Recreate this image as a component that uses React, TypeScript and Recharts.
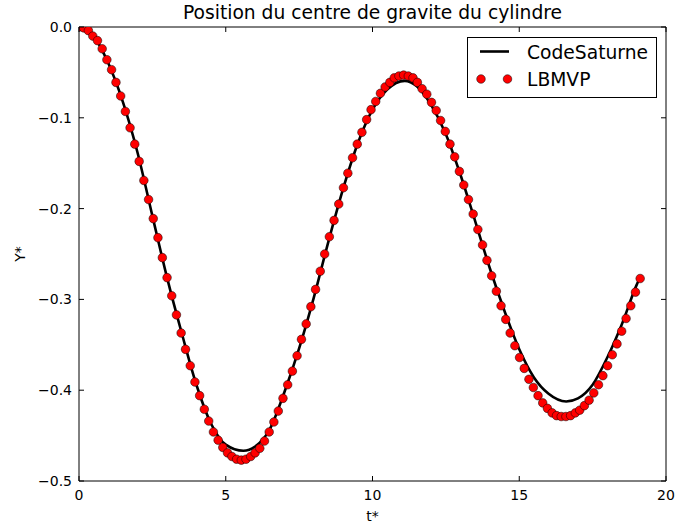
import { ComposedChart, Legend, Line, ReferenceArea, Scatter, XAxis, YAxis } from 'recharts';

// LBMVP samples (red markers)
const LBMVP_T = [
  0, 0.16, 0.32, 0.47, 0.63, 0.79, 0.95, 1.11, 1.26, 1.42, 1.58, 1.74, 1.9, 2.05, 2.21, 2.37, 2.53, 2.69, 2.84, 3.0,
  3.16, 3.32, 3.48, 3.63, 3.79, 3.95, 4.11, 4.27, 4.42, 4.58, 4.74, 4.9, 5.06, 5.21, 5.37, 5.53, 5.69, 5.85, 6.0, 6.16,
  6.32, 6.48, 6.64, 6.79, 6.95, 7.11, 7.27, 7.43, 7.58, 7.74, 7.9, 8.06, 8.22, 8.37, 8.53, 8.69, 8.85, 9.01, 9.16, 9.32,
  9.48, 9.64, 9.8, 9.95, 10.11, 10.27, 10.43, 10.59, 10.74, 10.9, 11.06, 11.22, 11.38, 11.53, 11.69, 11.85, 12.01, 12.17, 12.32, 12.48,
  12.64, 12.8, 12.96, 13.11, 13.27, 13.43, 13.59, 13.75, 13.9, 14.06, 14.22, 14.38, 14.54, 14.69, 14.85, 15.01, 15.17, 15.33, 15.48, 15.64,
  15.8, 15.96, 16.12, 16.27, 16.43, 16.59, 16.75, 16.91, 17.06, 17.22, 17.38, 17.54, 17.7, 17.85, 18.01, 18.17, 18.33, 18.49, 18.64, 18.8,
  18.96, 19.12,
];
const LBMVP_Y = [
  0, -0.001, -0.004, -0.01, -0.015, -0.024, -0.036, -0.047, -0.061, -0.076, -0.093, -0.111, -0.129, -0.148, -0.169, -0.19, -0.211, -0.232, -0.254, -0.276,
  -0.296, -0.317, -0.337, -0.355, -0.373, -0.391, -0.406, -0.421, -0.434, -0.446, -0.455, -0.463, -0.469, -0.473, -0.476, -0.477, -0.476, -0.473, -0.469, -0.464,
  -0.456, -0.446, -0.435, -0.423, -0.409, -0.394, -0.379, -0.362, -0.344, -0.327, -0.308, -0.289, -0.269, -0.25, -0.231, -0.213, -0.195, -0.177, -0.161, -0.144,
  -0.129, -0.116, -0.102, -0.091, -0.082, -0.073, -0.066, -0.061, -0.056, -0.054, -0.053, -0.054, -0.056, -0.061, -0.068, -0.074, -0.083, -0.092, -0.103, -0.115,
  -0.129, -0.143, -0.159, -0.174, -0.19, -0.206, -0.223, -0.24, -0.257, -0.274, -0.291, -0.307, -0.322, -0.337, -0.351, -0.364, -0.376, -0.388, -0.397, -0.406,
  -0.414, -0.42, -0.425, -0.428, -0.429, -0.429, -0.428, -0.425, -0.422, -0.417, -0.411, -0.403, -0.394, -0.384, -0.373, -0.361, -0.349, -0.335, -0.321, -0.307,
  -0.292, -0.277,
];

// CodeSaturne curve (black line)
const SATURNE_T = [
  0, 0.5, 1, 1.5, 2, 2.5, 3, 3.5, 4, 4.5, 5, 5.6, 6, 6.5, 7, 7.5, 8, 8.5, 9, 9.5, 10, 10.5, 11.1, 11.5, 12, 12.5,
  13, 13.5, 14, 14.5, 15, 15.5, 16, 16.6, 17, 17.5, 18, 18.5, 19, 19.1,
];
const SATURNE_Y = [
  0, -0.01, -0.04, -0.083, -0.139, -0.208, -0.276, -0.337, -0.394, -0.437, -0.46, -0.4667, -0.462, -0.443, -0.402, -0.354,
  -0.298, -0.236, -0.178, -0.128, -0.091, -0.069, -0.0593, -0.065, -0.086, -0.118, -0.163, -0.214, -0.266, -0.313, -0.355,
  -0.386, -0.404, -0.4124, -0.409, -0.394, -0.364, -0.327, -0.284, -0.277,
];

const X_TICKS = [0, 5, 10, 15, 20];
const Y_TICKS = [-0.5, -0.4, -0.3, -0.2, -0.1, 0];

const lbmvp = LBMVP_T.map((t, i) => ({ t, y: LBMVP_Y[i] }));
const saturne = SATURNE_T.map((t, i) => ({ t, y: SATURNE_Y[i] }));

const PLOT = { left: 79, top: 27, right: 666, bottom: 481 };
const FONT = '"DejaVu Sans", sans-serif';
const TICK = 5;

const fmtY = (v: number) => (v === 0 ? '0.0' : v.toFixed(1).replace('-', '\u2212'));

function XTick(props: any) {
  const x = props.x;
  return (
    <g>
      <line x1={x} x2={x} y1={PLOT.bottom} y2={PLOT.bottom - TICK} stroke="#000" />
      <line x1={x} x2={x} y1={PLOT.top} y2={PLOT.top + TICK} stroke="#000" />
      <text x={x} y={PLOT.bottom + 19} textAnchor="middle" fontSize={14} fontFamily={FONT} fill="#000">
        {props.payload.value}
      </text>
    </g>
  );
}

function YTick(props: any) {
  const y = props.y;
  return (
    <g>
      <line x1={PLOT.left} x2={PLOT.left + TICK} y1={y} y2={y} stroke="#000" />
      <line x1={PLOT.right} x2={PLOT.right - TICK} y1={y} y2={y} stroke="#000" />
      <text x={PLOT.left - 7} y={y + 5} textAnchor="end" fontSize={14} fontFamily={FONT} fill="#000">
        {fmtY(props.payload.value)}
      </text>
    </g>
  );
}

function RedDot(props: any) {
  return <circle cx={props.cx} cy={props.cy} r={4.3} fill="#ff0000" stroke="#000" strokeWidth={0.5} />;
}

function XLabel() {
  return (
    <text x={(PLOT.left + PLOT.right) / 2} y={521} textAnchor="middle" fontSize={14} fontFamily={FONT} fill="#000">
      t*
    </text>
  );
}

function YLabel() {
  return (
    <text x={25} y={254} transform="rotate(-90, 25, 254)" textAnchor="middle" fontSize={14} fontFamily={FONT} fill="#000">
      Y*
    </text>
  );
}

function LegendBox() {
  return (
    <svg width={190} height={61} style={{ display: 'block' }}>
      <rect x={0.5} y={0.5} width={189} height={60} fill="#fff" stroke="#000" />
      <line x1={13} x2={42} y1={14.5} y2={14.5} stroke="#000" strokeWidth={2.6} />
      <text x={60} y={21.5} fontSize={18.7} fontFamily={FONT} fill="#000">CodeSaturne</text>
      <circle cx={14} cy={42} r={4.3} fill="#ff0000" stroke="#000" strokeWidth={0.5} />
      <circle cx={40.5} cy={42} r={4.3} fill="#ff0000" stroke="#000" strokeWidth={0.5} />
      <text x={60} y={49} fontSize={18.7} fontFamily={FONT} fill="#000">LBMVP</text>
    </svg>
  );
}

export default function App() {
  return (
    <div style={{ position: 'absolute', left: 0, top: 0, width: 676, height: 526, background: '#fff' }}>
      <div
        style={{
          position: 'absolute',
          left: 0,
          width: 745,
          top: 0,
          textAlign: 'center',
          fontFamily: FONT,
          fontSize: 18.7,
          lineHeight: '26px',
          zIndex: 2,
        }}
      >
        Position du centre de gravite du cylindre
      </div>
      <ComposedChart width={676} height={526} margin={{ top: 27, right: 10, bottom: 15, left: 19 }}>
        <XAxis
          type="number"
          dataKey="t"
          domain={[0, 20]}
          ticks={X_TICKS}
          interval={0}
          height={30}
          allowDataOverflow
          axisLine={false}
          tickLine={false}
          tick={<XTick />}
          label={<XLabel />}
        />
        <YAxis
          type="number"
          dataKey="y"
          domain={[-0.5, 0]}
          ticks={Y_TICKS}
          interval={0}
          width={60}
          allowDataOverflow
          axisLine={false}
          tickLine={false}
          tick={<YTick />}
          label={<YLabel />}
        />
        <ReferenceArea x1={0} x2={20} y1={-0.5} y2={0} fill="none" stroke="#000" strokeWidth={1} ifOverflow="visible" />
        <Line
          data={saturne}
          dataKey="y"
          name="CodeSaturne"
          type="monotone"
          stroke="#000"
          strokeWidth={2.6}
          dot={false}
          isAnimationActive={false}
        />
        <Scatter data={lbmvp} dataKey="y" name="LBMVP" shape={<RedDot />} isAnimationActive={false} />
        <Legend
          layout="horizontal"
          verticalAlign="middle"
          align="center"
          content={<LegendBox />}
          wrapperStyle={{ position: 'absolute', left: 467, top: 37, width: 190, height: 61 }}
        />
      </ComposedChart>
    </div>
  );
}
